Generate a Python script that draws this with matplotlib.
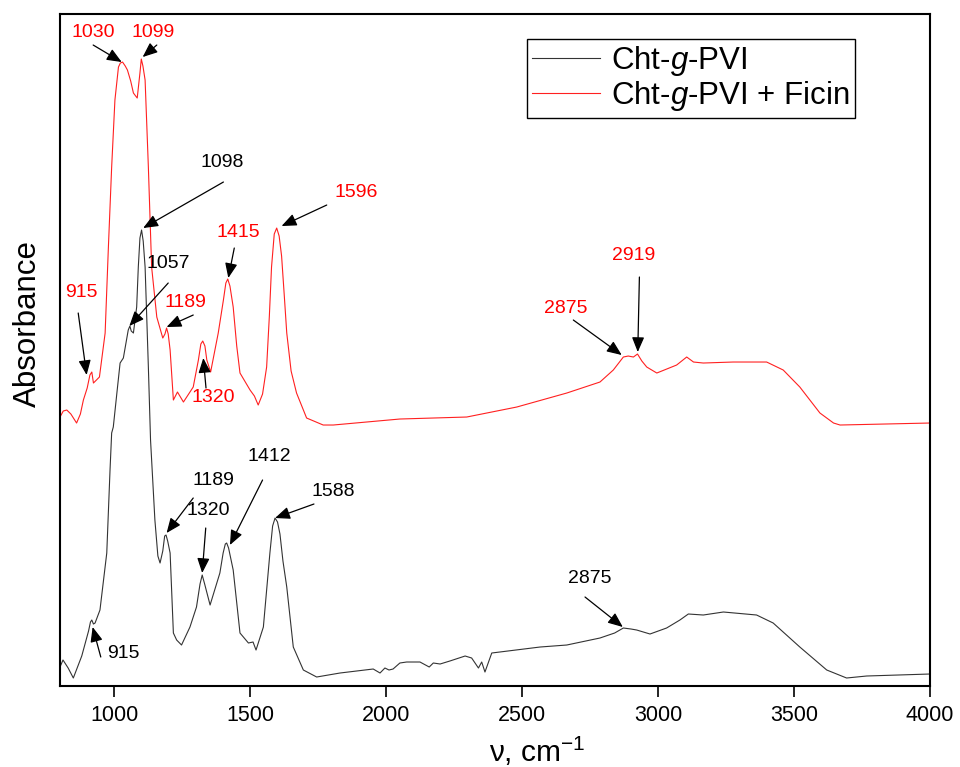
import matplotlib
matplotlib.use("Agg")
import matplotlib.pyplot as plt

plt.rcParams['font.family'] = ['Liberation Sans', 'DejaVu Sans']
plt.rcParams['mathtext.fontset'] = 'custom'
plt.rcParams['mathtext.rm'] = 'Liberation Sans'
plt.rcParams['mathtext.it'] = 'Liberation Sans:italic'

# Cht-g-PVI spectrum (wavenumber, cm-1 / absorbance, a.u.)
wn_pvi = [800, 811, 830, 849, 880, 905, 912, 917, 923, 929, 947, 972, 984, 990, 996, 1010,
          1021, 1033, 1051, 1057, 1062, 1070, 1082, 1088, 1094, 1100, 1106, 1113, 1125,
          1133, 1149, 1160, 1168, 1178, 1185, 1190, 1196, 1205, 1217, 1229, 1247, 1278,
          1302, 1315, 1323, 1332, 1352, 1388, 1400, 1408, 1413, 1420, 1437, 1462, 1493,
          1510, 1521, 1548, 1572, 1582, 1591, 1600, 1609, 1620, 1634, 1658, 1695,
          1744, 1830, 1952, 1977, 1995, 2010, 2025, 2050, 2075, 2124, 2158, 2173, 2198,
          2234, 2290, 2314, 2339, 2351, 2363, 2388, 2566, 2664, 2786, 2840, 2872, 2900,
          2921, 2970, 3031, 3080, 3111, 3166, 3240, 3362, 3423, 3521, 3620, 3693, 3767,
          4000]
ab_pvi = [0.19, 0.26, 0.18, 0.08, 0.30, 0.55, 0.64, 0.66, 0.62, 0.63, 0.76, 1.33, 2.16, 2.53,
          2.59, 2.95, 3.23, 3.28, 3.56, 3.60, 3.55, 3.53, 3.79, 4.19, 4.48, 4.56, 4.45, 4.19,
          3.19, 2.46, 1.66, 1.30, 1.23, 1.35, 1.50, 1.51, 1.45, 1.33, 0.53, 0.46, 0.41,
          0.59, 0.79, 1.02, 1.11, 1.02, 0.81, 1.13, 1.33, 1.42, 1.43, 1.38, 1.16, 0.53,
          0.43, 0.44, 0.36, 0.59, 1.33, 1.60, 1.68, 1.64, 1.52, 1.25, 0.99, 0.39, 0.16,
          0.09, 0.13, 0.17, 0.13, 0.18, 0.16, 0.17, 0.23, 0.24, 0.24, 0.19, 0.23, 0.22,
          0.25, 0.30, 0.28, 0.18, 0.24, 0.14, 0.33, 0.39, 0.41, 0.48, 0.53, 0.58, 0.57,
          0.56, 0.52, 0.58, 0.66, 0.72, 0.71, 0.74, 0.71, 0.63, 0.39, 0.16, 0.08, 0.10,
          0.12]

# Cht-g-PVI + Ficin spectrum
wn_fic = [800, 812, 825, 840, 861, 875, 886, 900, 910, 917, 923, 945, 966, 978, 990, 1002,
          1015, 1022, 1030, 1040, 1048, 1060, 1070, 1084, 1094, 1099, 1105, 1113, 1125,
          1137, 1156, 1178, 1186, 1192, 1198, 1205, 1217, 1232, 1254, 1290, 1309, 1318,
          1325, 1333, 1340, 1354, 1382, 1401, 1410, 1417, 1425, 1437, 1450, 1462, 1499,
          1515, 1529, 1545, 1560, 1570, 1578, 1588, 1597, 1606, 1615, 1625, 1634, 1650,
          1670, 1707, 1768, 1805, 2050, 2296, 2480, 2664, 2786, 2835, 2872, 2890, 2909,
          2924, 2940, 2958, 2995, 3068, 3105, 3130, 3166, 3276, 3399, 3460, 3521, 3595,
          3645, 3669, 4000]
ab_fic = [2.69, 2.75, 2.76, 2.72, 2.63, 2.72, 2.86, 2.98, 3.11, 3.14, 3.03, 3.09, 3.53, 4.39,
          5.19, 5.86, 6.19, 6.23, 6.24, 6.20, 6.16, 6.05, 5.93, 5.88, 6.13, 6.27, 6.20, 6.06,
          5.19, 4.19, 3.69, 3.48, 3.52, 3.58, 3.52, 3.36, 2.86, 2.94, 2.84, 2.99, 3.26,
          3.42, 3.45, 3.40, 3.26, 3.14, 3.53, 3.86, 4.03, 4.07, 4.00, 3.79, 3.40, 3.13,
          2.96, 2.90, 2.81, 2.92, 3.19, 3.70, 4.19, 4.52, 4.58, 4.50, 4.30, 3.90, 3.53,
          3.15, 2.93, 2.68, 2.61, 2.61, 2.67, 2.69, 2.79, 2.93, 3.04, 3.16, 3.29, 3.30,
          3.29, 3.32, 3.25, 3.19, 3.13, 3.21, 3.29, 3.24, 3.23, 3.24, 3.24, 3.16, 2.99,
          2.73, 2.63, 2.61, 2.63]

# peak labels: (text, text pos, arrow tail, arrow head, colour)
notes = [
    ("1030", (921, 6.54), (922, 6.41), (1027, 6.24), 'red'),
    ("1099", (1142, 6.54), (1156, 6.41), (1104, 6.29), 'red'),
    ("915", (880, 3.94), (867, 3.73), (898, 3.11), 'red'),
    ("1189", (1262, 3.84), (1290, 3.71), (1192, 3.59), 'red'),
    ("1320", (1364, 2.89), (1337, 2.98), (1327, 3.28), 'red'),
    ("1415", (1456, 4.54), (1441, 4.38), (1419, 4.08), 'red'),
    ("1596", (1889, 4.94), (1781, 4.81), (1615, 4.60), 'red'),
    ("2875", (2660, 3.78), (2688, 3.66), (2866, 3.31), 'red'),
    ("2919", (2911, 4.31), (2931, 4.09), (2925, 3.34), 'red'),
    ("1098", (1395, 5.24), (1401, 5.04), (1106, 4.58), 'black'),
    ("1057", (1198, 4.23), (1198, 4.03), (1055, 3.60), 'black'),
    ("1189", (1364, 2.06), (1290, 1.88), (1192, 1.53), 'black'),
    ("1320", (1345, 1.76), (1336, 1.58), (1323, 1.13), 'black'),
    ("1412", (1570, 2.30), (1545, 2.06), (1425, 1.41), 'black'),
    ("1588", (1805, 1.95), (1734, 1.82), (1591, 1.68), 'black'),
    ("915", (1033, 0.33), (950, 0.29), (920, 0.59), 'black'),
    ("2875", (2747, 1.08), (2731, 0.89), (2870, 0.59), 'black'),
]

fig = plt.figure(figsize=(9.6, 7.67), dpi=100)
ax = fig.add_axes([0.0625, 0.1056, 0.9063, 0.8761])

ax.plot(wn_pvi, ab_pvi, color='#333333', lw=0.8, label='Cht-$g$-PVI')
ax.plot(wn_fic, ab_fic, color='#ff2020', lw=0.8, label='Cht-$g$-PVI + Ficin')

for txt, tpos, tail, head, col in notes:
    ax.text(tpos[0], tpos[1], txt, color=col, fontsize=14, ha='center', va='center')
    ax.annotate('', xy=head, xytext=tail,
                arrowprops=dict(arrowstyle='-|>,head_length=0.6,head_width=0.25',
                                color='k', lw=0.9, mutation_scale=15,
                                shrinkA=0, shrinkB=0))

ax.set_xlim(800, 4000)
ax.set_ylim(0, 6.72)
ax.set_xticks([1000, 1500, 2000, 2500, 3000, 3500, 4000])
ax.set_yticks([])
ax.tick_params(axis='x', direction='out', length=8, width=1.2, labelsize=15.5, pad=6)
for s in ax.spines.values():
    s.set_linewidth(1.5)

ax.set_xlabel(r'ν, cm$^{\mathregular{-1}}$', fontsize=21.5)
ax.xaxis.set_label_coords(0.549, -0.072)
ax.set_ylabel('Absorbance', fontsize=22.5)
ax.yaxis.set_label_coords(-0.020, 0.54)

leg = ax.legend(loc='upper right', bbox_to_anchor=(0.924, 0.977), fontsize=22.5,
                frameon=True, fancybox=False, edgecolor='black', framealpha=1,
                handlelength=2.2, borderpad=0.15, labelspacing=0.05, handletextpad=0.35,
                borderaxespad=0.3)
leg.get_frame().set_linewidth(1.0)

fig.savefig('out.png', dpi=100)
